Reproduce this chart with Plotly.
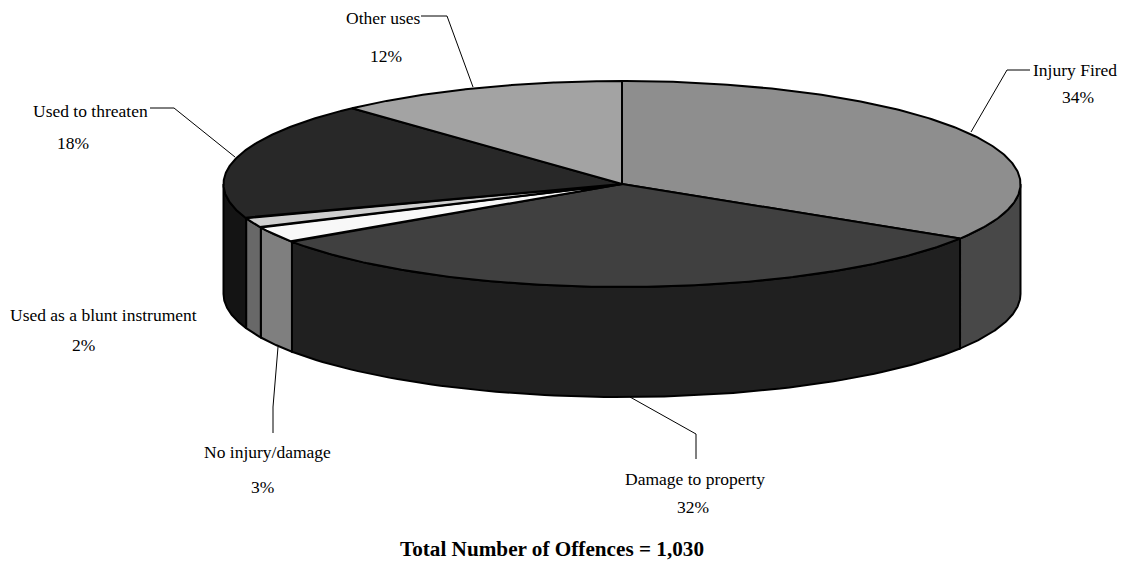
import numpy as np
import plotly.graph_objects as go

categories = ["Injury Fired", "Damage to property", "No injury/damage",
              "Used as a blunt instrument", "Used to threaten", "Other uses"]
offences = [349, 326, 26, 16, 191, 122]
percent_labels = ["34%", "32%", "3%", "2%", "18%", "12%"]
top_colors = ["#8e8e8e", "#404040", "#f8f8f8", "#cfcfcf", "#282828", "#a3a3a3"]
side_colors = ["#484848", "#202020", "#7f7f7f", "#686868", "#141414", "#505050"]
title_text = "Total Number of Offences = 1,030"

# label anchor positions (pixels): name, percent
name_pos = [(1075, 70), (695, 479), (267, 452), (103, 315), (90, 111), (383, 18)]
pct_pos = [(1078, 97), (693, 507), (262, 487), (83, 345), (73, 143), (386, 56)]
leaders = [
    [(971, 132), (1007, 70), (1030, 70)],
    [(630, 397), (696, 434), (696, 459)],
    [(278, 347), (273, 407), (273, 433)],
    None,
    [(150, 108), (174, 108), (235, 157)],
    [(421, 16), (447, 16), (473, 87)],
]

CX, CY, RX, RY, DEPTH = 622, 184, 398.5, 103, 110


def ell(t, dy=0.0):
    return CX + RX * np.sin(t), CY - RY * np.cos(t) + dy


fig = go.Figure()
OUTLINE = dict(color="#000000", width=2)


def poly(x, y, color):
    fig.add_trace(go.Scatter(x=list(x), y=list(y), mode="lines", fill="toself",
                             fillcolor=color, line=OUTLINE, showlegend=False,
                             hoverinfo="skip"))


fractions = np.array(offences) / sum(offences)
edges = np.concatenate([[0], np.cumsum(fractions)]) * 2 * np.pi

# side walls (front half only)
for i in range(len(offences)):
    a, b = max(edges[i], np.pi / 2), min(edges[i + 1], 3 * np.pi / 2)
    if b <= a:
        continue
    t = np.linspace(a, b, 80)
    x0, y0 = ell(t)
    x1, y1 = ell(t[::-1], DEPTH)
    poly(np.r_[x0, x1, x0[0]], np.r_[y0, y1, y0[0]], side_colors[i])

# top faces
for i in range(len(offences)):
    t = np.linspace(edges[i], edges[i + 1], 200)
    x, y = ell(t)
    poly(np.r_[CX, x, CX], np.r_[CY, y, CY], top_colors[i])

# leader lines
for pts in leaders:
    if pts:
        fig.add_trace(go.Scatter(x=[p[0] for p in pts], y=[p[1] for p in pts],
                                 mode="lines", line=dict(color="#000000", width=1),
                                 showlegend=False, hoverinfo="skip"))

font = dict(family="Liberation Serif", size=17.5, color="#000000")
for name, pct, np_, pp in zip(categories, percent_labels, name_pos, pct_pos):
    fig.add_annotation(x=np_[0], y=np_[1], text=name, showarrow=False, font=font,
                       xanchor="center", yanchor="middle")
    fig.add_annotation(x=pp[0], y=pp[1], text=pct, showarrow=False, font=font,
                       xanchor="center", yanchor="middle")
fig.add_annotation(x=552, y=549, text="<b>%s</b>" % title_text, showarrow=False,
                   font=dict(family="Liberation Serif", size=21.2, color="#000000"),
                   xanchor="center", yanchor="middle")

fig.update_layout(
    width=1126, height=561, margin=dict(l=0, r=0, t=0, b=0),
    paper_bgcolor="white", plot_bgcolor="white", showlegend=False,
    xaxis=dict(range=[0, 1126], visible=False, fixedrange=True),
    yaxis=dict(range=[561, 0], visible=False, fixedrange=True),
)
fig.write_html("out.html", config={"displayModeBar": False},
               post_script="document.body.style.margin='0';document.body.style.overflow='hidden';")
